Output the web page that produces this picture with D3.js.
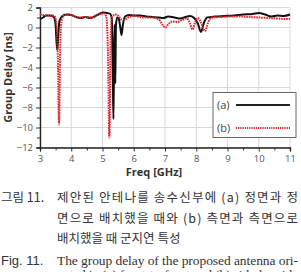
<!DOCTYPE html>
<html><head><meta charset="utf-8">
<script src="https://cdn.jsdelivr.net/npm/d3@7"></script>
<style>body{margin:0;background:#fff;}svg{display:block;}</style>
</head><body>
<script>
const freqA = [3.0,3.1,3.2,3.35,3.45,3.5,3.53,3.555,3.58,3.62,3.7,3.85,4.0,4.15,4.3,4.45,4.6,4.75,4.9,5.03,5.15,5.25,5.3,5.33,5.35,5.37,5.39,5.41,5.43,5.47,5.52,5.57,5.61,5.65,5.72,5.85,6.0,6.2,6.4,6.6,6.8,6.95,7.1,7.3,7.5,7.65,7.8,7.95,8.05,8.15,8.25,8.35,8.6,8.9,9.2,9.5,9.8,10.0,10.2,10.4,10.6,10.8,11.0];
const delayA = [0.85,1.0,1.2,1.2,1.0,0.2,-1.5,-2.25,-1.0,0.6,1.1,1.3,1.25,1.05,0.95,1.05,0.95,1.1,1.35,1.5,1.45,1.35,0.8,-5,-9.15,-3,0.3,-5.6,0.2,1.0,0.9,0.0,-0.75,0.2,1.1,1.25,1.2,1.2,1.1,1.05,1.0,0.95,1.1,1.0,0.9,1.05,1.15,0.9,0.4,-0.45,0.5,1.0,1.1,1.15,1.2,1.3,1.35,1.45,1.3,1.1,1.2,1.15,1.3];
const freqB = [3.0,3.2,3.35,3.45,3.52,3.57,3.61,3.64,3.68,3.75,3.9,4.05,4.2,4.35,4.5,4.65,4.8,4.95,5.05,5.12,5.17,5.22,5.26,5.3,5.4,5.5,5.6,5.7,5.85,6.0,6.2,6.4,6.6,6.8,6.95,7.02,7.1,7.25,7.4,7.55,7.7,7.8,7.88,7.95,8.05,8.15,8.28,8.38,8.5,8.8,9.1,9.4,9.7,10.0,10.3,10.6,10.8,11.0];
const delayB = [1.3,1.2,1.15,1.2,0.5,-3,-9.7,-3,0.5,1.2,1.3,1.2,1.0,1.0,1.05,1.0,1.25,1.4,1.4,1.1,-2,-11.0,-2,1.0,1.3,1.2,0.8,0.8,1.05,1.15,1.05,1.0,1.0,0.8,0.15,0.0,0.3,0.6,0.55,0.75,0.9,0.4,-0.2,0.4,0.95,0.5,-0.35,0.5,1.0,1.05,1.1,1.1,1.05,1.0,0.95,0.9,0.85,0.85];
const xTicks = [3,4,5,6,7,8,9,10,11];
const yTicks = [2,0,-2,-4,-6,-8,-10,-12];
const seriesNames = ["(a)","(b)"];
const captionKo = ["제안된 안테나를 송수신부에 (a) 정면과 정","면으로 배치했을 때와 (b) 측면과 측면으로","배치했을 때 군지연 특성"];
const captionEn = ["The group delay of the proposed antenna ori-","ented in (a) front-to-front and (b) side-by-side"];

const W = 301, H = 272;
const svg = d3.select("body").append("svg").attr("width", W).attr("height", H);
const x = d3.scaleLinear().domain([3, 11]).range([40, 290]);
const y = d3.scaleLinear().domain([-12, 2]).range([147.5, 7.5]);

// grid
const g = svg.append("g");
g.selectAll(".vg").data(xTicks).join("line")
  .attr("x1", d => x(d)).attr("x2", d => x(d)).attr("y1", y(2)).attr("y2", y(-12))
  .attr("stroke", "#d8d8d8").attr("stroke-width", 1);
g.selectAll(".hg").data(yTicks).join("line")
  .attr("x1", x(3)).attr("x2", x(11)).attr("y1", d => y(d)).attr("y2", d => y(d))
  .attr("stroke", "#d8d8d8").attr("stroke-width", 1);

// axes
const xAxis = svg.append("g").attr("transform", `translate(0,${y(-12)})`)
  .call(d3.axisBottom(x).tickValues(xTicks).tickFormat(d3.format("d")).tickSize(4).tickPadding(4));
const xMinor = svg.append("g").attr("transform", `translate(0,${y(-12)})`)
  .call(d3.axisBottom(x).tickValues(d3.range(3.5, 11, 1)).tickFormat("").tickSize(3));
const yAxis = svg.append("g").attr("transform", `translate(${x(3)},0)`)
  .call(d3.axisLeft(y).tickValues(yTicks).tickFormat(d3.format("d")).tickSize(4).tickPadding(3));
const yMinor = svg.append("g").attr("transform", `translate(${x(3)},0)`)
  .call(d3.axisLeft(y).tickValues(d3.range(-11, 2, 2)).tickFormat("").tickSize(3));
[xAxis, xMinor, yAxis, yMinor].forEach(a => {
  a.select(".domain").attr("stroke", "#222").attr("stroke-width", 1.2);
  a.selectAll(".tick line").attr("stroke", "#333");
  a.selectAll("text").attr("font-family", "'Open Sans', sans-serif").attr("font-size", 9.5).attr("fill", "#555");
});
yAxis.selectAll("text").attr("font-size", 9.5);

// lines
const line = d3.line().curve(d3.curveMonotoneX);
const ptsA = freqA.map((f, i) => [x(f), y(delayA[i])]);
const ptsB = freqB.map((f, i) => [x(f), y(delayB[i])]);
svg.append("path").attr("d", line(ptsA)).attr("fill", "none").attr("stroke", "#111").attr("stroke-width", 2);
svg.append("path").attr("d", line(ptsB)).attr("fill", "none").attr("stroke", "#e3262b").attr("stroke-width", 2)
  .attr("stroke-dasharray", "1.6,0.9");

// axis labels
svg.append("text").attr("x", 154).attr("y", 176).attr("text-anchor", "middle")
  .attr("font-family", "'Open Sans', sans-serif").attr("font-weight", "bold").attr("font-size", 11).attr("fill", "#333")
  .text("Freq [GHz]");
svg.append("text").attr("transform", `translate(12,${y(-5)}) rotate(-90)`).attr("text-anchor", "middle")
  .attr("font-family", "'Open Sans', sans-serif").attr("font-weight", "bold").attr("font-size", 11).attr("fill", "#333")
  .text("Group Delay [ns]");

// legend
const lg = svg.append("g");
lg.append("rect").attr("x", 213).attr("y", 92.5).attr("width", 83).attr("height", 45)
  .attr("fill", "#fff").attr("stroke", "#666").attr("stroke-width", 1);
const legY = [105, 128];
seriesNames.forEach((n, i) => {
  lg.append("text").attr("x", 217).attr("y", legY[i] + 4).attr("font-family", "'Open Sans', sans-serif")
    .attr("font-size", 11).attr("fill", "#444").text(n);
  lg.append("line").attr("x1", 236).attr("x2", 290).attr("y1", legY[i]).attr("y2", legY[i])
    .attr("stroke", i === 0 ? "#222" : "#e3262b").attr("stroke-width", i === 0 ? 2 : 1.8)
    .attr("stroke-dasharray", i === 0 ? null : "1.2,1");
});

// caption
const cap = svg.append("g").attr("fill", "#333");
cap.append("text").attr("x", 1).attr("y", 202).attr("font-family", "'Noto Sans CJK KR', sans-serif")
  .attr("font-size", 12.5).text("그림 11.");
const koY = [202, 222.5, 243];
captionKo.forEach((t, i) => {
  const tx = cap.append("text").attr("x", 57).attr("y", koY[i]).attr("font-family", "'Noto Sans CJK KR', sans-serif")
    .attr("font-size", 12.5).text(t);
  if (i < 2) tx.attr("textLength", 241).attr("lengthAdjust", "spacing");
});
cap.append("text").attr("x", 1).attr("y", 265).attr("font-family", "'Liberation Sans', sans-serif")
  .attr("font-size", 13).text("Fig. 11.");
cap.append("text").attr("x", 57).attr("y", 265).attr("font-family", "'Liberation Serif', serif")
  .attr("font-size", 13.5).attr("textLength", 241).attr("lengthAdjust", "spacing").text(captionEn[0]);
cap.append("text").attr("x", 57).attr("y", 279).attr("font-family", "'Liberation Serif', serif")
  .attr("font-size", 13.5).attr("textLength", 241).attr("lengthAdjust", "spacing").text(captionEn[1]);
</script>
</body></html>
